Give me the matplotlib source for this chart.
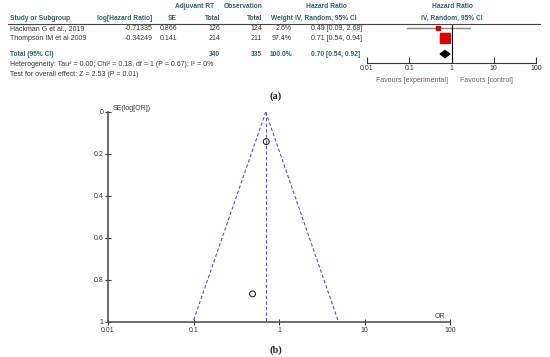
import matplotlib
matplotlib.use("Agg")
import matplotlib.pyplot as plt
import numpy as np

plt.rcParams['font.family'] = ['Liberation Sans', 'DejaVu Sans']

# ---- data ----
studies = ["Hackman G et al., 2019", "Thompson IM et al 2009"]
log_hr = [-0.71335, -0.34249]
se = [0.866, 0.141]
adj_total = [126, 214]
obs_total = [124, 211]
weights = [2.6, 97.4]
hr = [0.49, 0.71]
ci_low = [0.09, 0.54]
ci_high = [2.68, 0.94]
total_adj = 340
total_obs = 335
total_hr = 0.70
total_ci = (0.54, 0.92)
heterogeneity = "Heterogeneity: Tau² = 0.00; Chi² = 0.18, df = 1 (P = 0.67); I² = 0%"
overall = "Test for overall effect: Z = 2.53 (P = 0.01)"
forest_ticks = [0.01, 0.1, 1, 10, 100]
forest_ticklabels = ["0.01", "0.1", "1", "10", "100"]
funnel_yticks = [0, 0.2, 0.4, 0.6, 0.8, 1]
funnel_yticklabels = ["0", "0.2", "0.4", "0.6", "0.8", "1"]

W, H = 550, 357
fig = plt.figure(figsize=(W/100, H/100), dpi=100)

def fx(x): return x / W
def fy(y): return 1 - y / H

HEAD = '#2E5E6E'
TXT = '#333333'
FS = 5.0
FSB = 4.75

def t(x, y, s, ha='left', color=TXT, bold=False, size=None, **kw):
    if size is None:
        size = FSB if bold else FS
    fig.text(fx(x), fy(y), s, ha=ha, va='center', color=color,
             fontweight='bold' if bold else 'normal', fontsize=size, **kw)

# headers
t(195, 7, "Adjuvant RT", ha='center', color=HEAD, bold=True)
t(243, 7, "Observation", ha='center', color=HEAD, bold=True)
t(326, 7, "Hazard Ratio", ha='center', color=HEAD, bold=True)
t(452, 7, "Hazard Ratio", ha='center', color=HEAD, bold=True)
t(10, 18, "Study or Subgroup", color=HEAD, bold=True)
t(125, 18, "log[Hazard Ratio]", ha='center', color=HEAD, bold=True)
t(172, 18, "SE", ha='center', color=HEAD, bold=True)
t(220, 18, "Total", ha='right', color=HEAD, bold=True)
t(262, 18, "Total", ha='right', color=HEAD, bold=True)
t(293, 18, "Weight", ha='right', color=HEAD, bold=True)
t(326, 18, "IV, Random, 95% CI", ha='center', color=HEAD, bold=True)
t(452, 18, "IV, Random, 95% CI", ha='center', color=HEAD, bold=True)
fig.add_artist(plt.Line2D([fx(8), fx(540)], [fy(23.5), fy(23.5)], color='#444444', lw=0.8))

row_y = [29, 39]
for i, s in enumerate(studies):
    y = row_y[i]
    t(10, y, s)
    t(153, y, f"{log_hr[i]:.5f}", ha='right')
    t(160, y, f"{se[i]:.3f}")
    t(220, y, f"{adj_total[i]}", ha='right')
    t(262, y, f"{obs_total[i]}", ha='right')
    t(292, y, f"{weights[i]:.1f}%", ha='right')
    t(311, y, f"{hr[i]:.2f} [{ci_low[i]:.2f}, {ci_high[i]:.2f}]")

t(10, 55, "Total (95% CI)", color=HEAD, bold=True)
t(220, 55, f"{total_adj}", ha='right', color=HEAD, bold=True)
t(262, 55, f"{total_obs}", ha='right', color=HEAD, bold=True)
t(292, 55, f"{sum(weights):.1f}%", ha='right', color=HEAD, bold=True)
t(311, 55, f"{total_hr:.2f} [{total_ci[0]:.2f}, {total_ci[1]:.2f}]", color=HEAD, bold=True)
t(10, 65, heterogeneity)
t(10, 75, overall)

# forest axes
axf = fig.add_axes([fx(367), fy(63), fx(536) - fx(367), (63 - 24) / H])
axf.set_xscale('log')
axf.set_xlim(0.01, 100)
axf.set_ylim(63, 24)
for i in range(len(studies)):
    y = row_y[i] - 1
    axf.plot([ci_low[i], ci_high[i]], [y, y], color='#888888', lw=1.0)
    sz = 1.5 + 5.8 * np.sqrt(weights[i] / 100)
    axf.plot(hr[i], y, marker='s', color='#e00000', ms=sz, mec='#e00000', lw=0)
dx = [total_ci[0], total_hr, total_ci[1], total_hr]
dy = [54, 50.5, 54, 57.5]
axf.fill(dx, dy, color='black')
axf.axvline(1, color='black', lw=0.8)
for side in ['top', 'right', 'left']:
    axf.spines[side].set_visible(False)
axf.spines['bottom'].set_color('#333333')
axf.spines['bottom'].set_linewidth(0.8)
axf.set_yticks([])
axf.set_xticks(forest_ticks)
axf.set_xticklabels(forest_ticklabels)
axf.minorticks_off()
axf.tick_params(axis='x', direction='in', length=4, width=0.8, pad=1.5,
                labelsize=FS, colors='#333333')
axf.patch.set_alpha(0)
t(412, 80, "Favours [experimental]", ha='center', color='#6a6060')
t(486, 80, "Favours [control]", ha='center', color='#6a6060')

fig.text(fx(276), fy(96), "(a)", ha='center', va='center', fontsize=7.5,
         fontweight='bold', family=['Liberation Serif', 'DejaVu Serif'], color='#222222')

# funnel plot
study_or = hr
study_se = se
pooled = total_hr
axp = fig.add_axes([fx(108), fy(322), fx(450) - fx(108), (322 - 112) / H])
axp.set_xscale('log')
axp.set_xlim(0.01, 100)
axp.set_ylim(1, 0)
se_line = np.array([0, 1.0])
axp.plot(pooled * np.exp(-1.96 * se_line), se_line, color='#4a4aff', ls=(0, (3, 2)), lw=0.8)
axp.plot(pooled * np.exp(1.96 * se_line), se_line, color='#4a4aff', ls=(0, (3, 2)), lw=0.8)
axp.plot([pooled, pooled], [0, 1], color='#4a4aff', ls=(0, (3, 2)), lw=0.8)
axp.scatter(study_or, study_se, s=18, facecolors='none', edgecolors='#222222', linewidths=0.8, zorder=3)
for side in ['top', 'right']:
    axp.spines[side].set_visible(False)
for side in ['left', 'bottom']:
    axp.spines[side].set_color('#555555')
    axp.spines[side].set_linewidth(1.2)
axp.set_xticks(forest_ticks)
axp.set_xticklabels(forest_ticklabels)
axp.minorticks_off()
axp.set_yticks(funnel_yticks)
axp.set_yticklabels(funnel_yticklabels)
axp.tick_params(direction='inout', length=5, width=0.8, labelsize=FS, colors='#333333', pad=1)
axp.patch.set_alpha(0)
fig.text(fx(113), fy(108), "SE(log[OR])", ha='left', va='center', fontsize=FS, color='#333333')
fig.text(fx(445), fy(316), "OR", ha='right', va='center', fontsize=FS, color='#333333')
fig.text(fx(276), fy(350), "(b)", ha='center', va='center', fontsize=7.5,
         fontweight='bold', family=['Liberation Serif', 'DejaVu Serif'], color='#222222')

fig.savefig("out.png", dpi=100)
